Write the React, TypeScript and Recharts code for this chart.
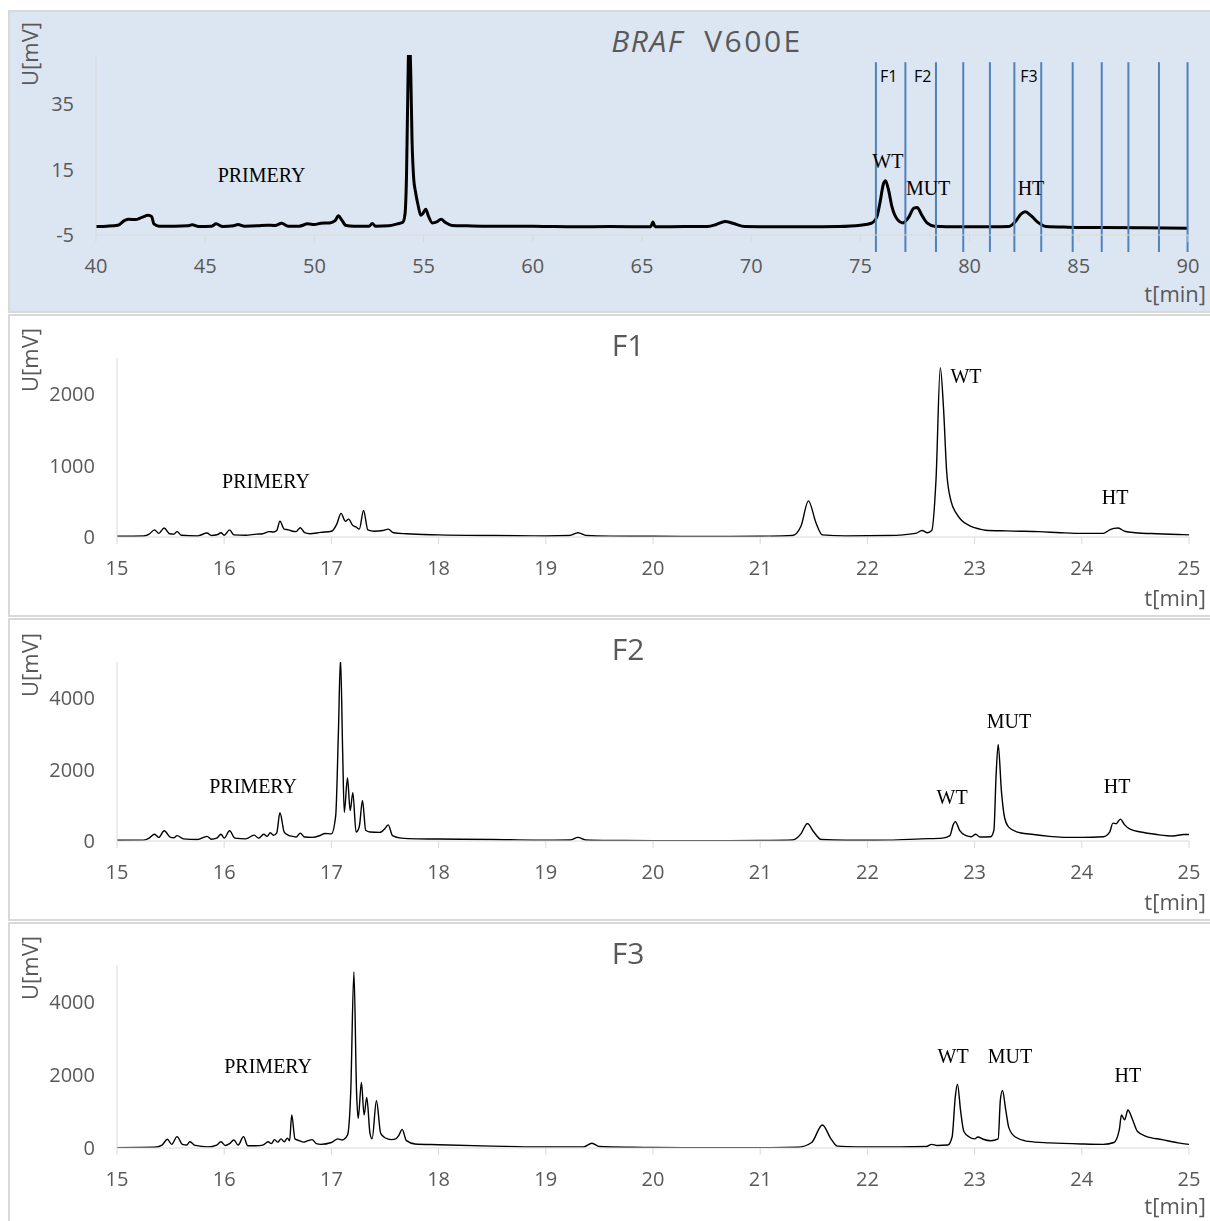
import React from "react";
import {
  LineChart,
  Line,
  XAxis,
  YAxis,
  ReferenceLine,
  ReferenceDot,
} from "recharts";

type Pt = [number, number];

// BRAF V600E overview trace, t [min] vs U [mV]
const brafTrace: Pt[] = [
  [40.0, -2.4], [40.5, -2.3], [41.0, -2.0], [41.3, -0.6], [41.5, -0.2], [41.8, -0.3],
  [42.1, 0.4], [42.4, 1.0], [42.55, 0.6], [42.65, -1.6], [42.9, -2.3], [43.6, -2.3],
  [44.2, -2.2], [44.4, -1.9], [44.7, -2.4], [45.3, -2.3], [45.5, -1.6], [45.8, -2.4],
  [46.3, -2.2], [46.5, -1.8], [46.8, -2.3], [47.4, -2.2], [47.8, -2.0], [48.2, -2.1],
  [48.5, -1.4], [48.8, -2.3], [49.3, -2.3], [49.7, -1.6], [50.0, -1.8], [50.3, -1.4],
  [50.7, -1.3], [50.95, -0.6], [51.1, 0.9], [51.25, -0.4], [51.45, -2.1], [51.8, -2.3],
  [52.5, -2.3], [52.65, -1.5], [52.8, -2.3], [53.4, -2.2], [53.8, -1.6], [54.05, -1.1],
  [54.15, 1.5], [54.22, 14], [54.28, 40], [54.34, 58], [54.41, 45], [54.47, 24],
  [54.55, 12], [54.62, 8.5], [54.75, 4], [54.87, 1], [54.97, 1.6], [55.1, 2.9],
  [55.22, 0.8], [55.4, -1.3], [55.6, -1.0], [55.8, -0.2], [56.0, -1.2], [56.3, -2.1],
  [57.0, -2.2], [58.0, -2.3], [59.2, -2.3], [60.5, -2.4], [62.0, -2.5], [63.5, -2.4],
  [65.4, -2.5], [65.5, -1.0], [65.6, -2.5], [67.0, -2.4], [68.0, -2.4], [68.4, -1.8],
  [68.8, -0.9], [69.2, -1.5], [69.7, -2.4], [71.0, -2.5], [72.5, -2.5], [74.0, -2.4],
  [75.0, -2.0], [75.5, -1.4], [75.75, 0.5], [75.9, 5], [76.05, 10.5], [76.15, 11.6],
  [76.28, 9], [76.45, 3.5], [76.7, -0.3], [76.95, -1.3], [77.2, 0.3], [77.45, 3.2],
  [77.6, 3.4], [77.8, 1.2], [78.05, -1.3], [78.4, -2.3], [79.5, -2.5], [81.0, -2.5],
  [81.8, -2.4], [82.1, -0.9], [82.35, 1.4], [82.55, 2.1], [82.8, 1.0], [83.1, -1.0],
  [83.5, -2.4], [84.5, -2.6], [86.0, -2.7], [88.0, -2.8], [90.0, -2.9],
];

// fraction boundaries collected in the overview run
const brafCuts = [75.71, 77.06, 78.46, 79.71, 80.93, 82.05, 83.28, 84.72, 86.05, 87.27, 88.67, 89.98];

const f1Trace: Pt[] = [
  [15.0, 10], [15.25, 15], [15.3, 40], [15.35, 100], [15.39, 50], [15.44, 125], [15.49, 45],
  [15.53, 40], [15.56, 75], [15.6, 25], [15.75, 15], [15.84, 55], [15.88, 20], [15.94, 35],
  [15.97, 60], [16.0, 25], [16.05, 100], [16.09, 30], [16.2, 25], [16.3, 40], [16.36, 45],
  [16.42, 75], [16.46, 70], [16.49, 90], [16.52, 220], [16.56, 110], [16.6, 100], [16.64, 80],
  [16.67, 75], [16.71, 130], [16.75, 60], [16.8, 45], [16.9, 65], [17.0, 80], [17.05, 180],
  [17.09, 330], [17.13, 220], [17.16, 250], [17.2, 160], [17.23, 140], [17.26, 110], [17.3, 370],
  [17.34, 100], [17.4, 80], [17.48, 90], [17.53, 110], [17.58, 60], [17.7, 45], [18.0, 30],
  [18.5, 20], [19.0, 15], [19.22, 20], [19.3, 60], [19.38, 20], [19.6, 12], [20.0, 10],
  [20.5, 8], [21.0, 10], [21.3, 20], [21.38, 150], [21.45, 505], [21.52, 200], [21.58, 30],
  [21.8, 15], [22.2, 20], [22.45, 50], [22.51, 90], [22.56, 60], [22.6, 90], [22.64, 800],
  [22.68, 2365], [22.71, 1800], [22.74, 900], [22.78, 500], [22.83, 330], [22.88, 230],
  [22.95, 160], [23.05, 110], [23.1, 95], [23.3, 85], [23.6, 75], [23.8, 60], [24.0, 50],
  [24.2, 50], [24.26, 100], [24.3, 120], [24.34, 125], [24.4, 80], [24.5, 60], [24.7, 45],
  [24.9, 35], [25.0, 30],
];

const f2Trace: Pt[] = [
  [15.0, 20], [15.25, 25], [15.3, 80], [15.35, 190], [15.39, 100], [15.44, 285], [15.5, 100],
  [15.53, 90], [15.56, 150], [15.62, 60], [15.75, 40], [15.84, 130], [15.88, 50], [15.93, 80],
  [15.97, 190], [16.0, 80], [16.05, 285], [16.1, 80], [16.2, 60], [16.28, 165], [16.32, 80],
  [16.37, 190], [16.4, 130], [16.43, 230], [16.46, 160], [16.49, 230], [16.52, 790], [16.56, 250],
  [16.6, 160], [16.64, 130], [16.67, 110], [16.71, 220], [16.75, 110], [16.82, 100], [16.9, 160],
  [16.94, 210], [17.0, 200], [17.04, 700], [17.065, 3000], [17.085, 5100], [17.105, 2500],
  [17.12, 800], [17.15, 1760], [17.175, 850], [17.2, 1350], [17.23, 250], [17.26, 400],
  [17.29, 1130], [17.32, 300], [17.36, 250], [17.45, 240], [17.5, 350], [17.53, 450],
  [17.57, 150], [17.65, 80], [17.8, 60], [18.0, 55], [18.5, 40], [19.0, 25], [19.23, 30],
  [19.3, 100], [19.37, 30], [19.6, 15], [20.0, 10], [20.5, 10], [21.0, 15], [21.3, 30],
  [21.38, 200], [21.44, 490], [21.5, 250], [21.57, 40], [21.8, 20], [22.2, 25], [22.5, 60],
  [22.7, 80], [22.77, 150], [22.8, 450], [22.82, 540], [22.86, 300], [22.92, 150], [22.97, 120],
  [23.01, 190], [23.05, 110], [23.15, 120], [23.18, 300], [23.2, 1800], [23.22, 2695],
  [23.25, 1400], [23.28, 650], [23.32, 380], [23.4, 250], [23.55, 180], [23.7, 130],
  [23.85, 100], [24.0, 100], [24.2, 120], [24.26, 250], [24.29, 500], [24.32, 480], [24.36, 610],
  [24.4, 450], [24.45, 330], [24.55, 250], [24.7, 180], [24.85, 140], [24.95, 180], [25.0, 180],
];

const f3Trace: Pt[] = [
  [15.0, 10], [15.35, 20], [15.42, 80], [15.47, 240], [15.51, 100], [15.56, 310], [15.61, 100],
  [15.65, 80], [15.68, 170], [15.73, 70], [15.85, 30], [15.93, 80], [15.97, 170], [16.01, 70],
  [16.05, 120], [16.09, 220], [16.13, 80], [16.18, 310], [16.22, 60], [16.3, 60], [16.36, 80],
  [16.41, 170], [16.44, 120], [16.47, 230], [16.5, 160], [16.53, 250], [16.56, 170], [16.59, 270],
  [16.61, 200], [16.63, 900], [16.66, 250], [16.7, 200], [16.74, 160], [16.78, 200], [16.82, 230],
  [16.86, 120], [16.9, 100], [17.0, 150], [17.06, 250], [17.1, 220], [17.15, 350], [17.18, 1500],
  [17.21, 4810], [17.235, 1500], [17.25, 810], [17.28, 1790], [17.305, 900], [17.33, 1380],
  [17.36, 400], [17.38, 250], [17.42, 1290], [17.46, 400], [17.5, 280], [17.56, 230], [17.6, 250],
  [17.63, 350], [17.66, 510], [17.7, 200], [17.78, 110], [18.0, 90], [18.5, 50], [19.0, 30],
  [19.35, 30], [19.43, 130], [19.5, 40], [19.8, 20], [20.0, 15], [20.5, 10], [21.0, 10],
  [21.35, 20], [21.48, 150], [21.58, 630], [21.66, 250], [21.72, 50], [21.9, 30], [22.3, 30],
  [22.55, 40], [22.6, 100], [22.65, 70], [22.75, 80], [22.79, 300], [22.82, 1400], [22.84, 1745],
  [22.87, 1000], [22.9, 450], [22.95, 300], [23.0, 250], [23.03, 300], [23.08, 240], [23.15, 200],
  [23.22, 250], [23.24, 1300], [23.26, 1570], [23.29, 1050], [23.32, 550], [23.38, 300],
  [23.5, 180], [23.7, 140], [24.0, 110], [24.2, 100], [24.3, 150], [24.35, 500], [24.37, 900],
  [24.4, 770], [24.43, 1040], [24.47, 800], [24.52, 450], [24.6, 320], [24.75, 230],
  [24.9, 140], [25.0, 100],
];

const brafTicks = [40, 45, 50, 55, 60, 65, 70, 75, 80, 85, 90];
const minuteTicks = [15, 16, 17, 18, 19, 20, 21, 22, 23, 24, 25];
const brafYTicks = [-5, 15, 35];
const f1YTicks = [0, 1000, 2000];
const fracYTicks = [0, 2000, 4000];

type Note = { text: string; t: number; v: number };

const brafNotes: Note[] = [
  { text: "PRIMERY", t: 47.58, v: 13.3 },
  { text: "WT", t: 76.26, v: 17.6 },
  { text: "MUT", t: 78.1, v: 9.5 },
  { text: "HT", t: 82.81, v: 9.35 },
];
const brafFractions: Note[] = [
  { text: "F1", t: 76.3, v: 43.5 },
  { text: "F2", t: 77.85, v: 43.5 },
  { text: "F3", t: 82.72, v: 43.5 },
];
const f1Notes: Note[] = [
  { text: "PRIMERY", t: 16.39, v: 785 },
  { text: "WT", t: 22.92, v: 2250 },
  { text: "HT", t: 24.31, v: 562 },
];
const f2Notes: Note[] = [
  { text: "PRIMERY", t: 16.27, v: 1550 },
  { text: "WT", t: 22.79, v: 1241 },
  { text: "MUT", t: 23.32, v: 3366 },
  { text: "HT", t: 24.33, v: 1545 },
];
const f3Notes: Note[] = [
  { text: "PRIMERY", t: 16.41, v: 2252 },
  { text: "WT", t: 22.8, v: 2526 },
  { text: "MUT", t: 23.33, v: 2526 },
  { text: "HT", t: 24.43, v: 1986 },
];

const W = 1200;
const H = 299;
const GREY = "#595959";
const SANS = "'Open Sans', sans-serif";
const SERIF = "'Liberation Serif', 'Times New Roman', serif";

interface PanelProps {
  trace: Pt[];
  xDomain: [number, number];
  xTicks: number[];
  yDomain: [number, number];
  yTicks: number[];
  left: number;
  right: number;
  top: number;
  bottom: number;
  title: React.ReactNode;
  titleX: number;
  notes: Note[];
  strokeWidth: number;
  yTitleY: number;
  background?: string;
  cuts?: number[];
  cutSpan?: [number, number];
  fractions?: Note[];
}

function Panel(p: PanelProps) {
  const rows = p.trace.map(([t, v]) => ({ t, v }));
  return (
    <div
      style={{
        position: "relative",
        width: W,
        height: H,
        border: "2px solid #d9d9d9",
        background: p.background ?? "#ffffff",
        marginBottom: 1,
      }}
    >
      <LineChart
        width={W}
        height={H}
        data={rows}
        margin={{ top: p.top, right: W - p.right, left: p.left - 60, bottom: H - p.bottom - 40 }}
      >
        <XAxis
          type="number"
          dataKey="t"
          domain={p.xDomain}
          ticks={p.xTicks}
          interval={0}
          allowDataOverflow
          height={40}
          tickSize={7}
          tickMargin={17}
          axisLine={{ stroke: "#d9d9d9" }}
          tickLine={{ stroke: "#d9d9d9" }}
          tick={{ fill: GREY, fontSize: 20, fontFamily: SANS }}
        />
        <YAxis
          type="number"
          domain={p.yDomain}
          ticks={p.yTicks}
          interval={0}
          allowDataOverflow
          width={60}
          tickSize={0}
          tickMargin={22}
          tickLine={false}
          axisLine={{ stroke: "#d9d9d9" }}
          tick={{ fill: GREY, fontSize: 20, fontFamily: SANS }}
        />
        <Line
          type="monotone"
          dataKey="v"
          stroke="#000000"
          strokeWidth={p.strokeWidth}
          dot={false}
          isAnimationActive={false}
        />
        {p.cuts?.map((c) => (
          <ReferenceLine
            key={c}
            segment={[
              { x: c, y: p.cutSpan![0] },
              { x: c, y: p.cutSpan![1] },
            ]}
            stroke="#4f81bd"
            strokeWidth={2}
            ifOverflow="visible"
          />
        ))}
        {p.fractions?.map((n) => (
          <ReferenceDot
            key={n.text}
            x={n.t}
            y={n.v}
            r={0}
            fill="none"
            stroke="none"
            ifOverflow="visible"
            label={{ value: n.text, position: "center", fill: "#000", fontSize: 16, fontFamily: SANS }}
          />
        ))}
        {p.notes.map((n) => (
          <ReferenceDot
            key={n.text}
            x={n.t}
            y={n.v}
            r={0}
            fill="none"
            stroke="none"
            ifOverflow="visible"
            label={{ value: n.text, position: "center", fill: "#000", fontSize: 20, fontFamily: SERIF }}
          />
        ))}
      </LineChart>
      <svg
        width={W}
        height={H}
        style={{ position: "absolute", left: 0, top: 0, pointerEvents: "none" }}
      >
        <text x={p.titleX} y={40} textAnchor="middle" fontSize={30} fill={GREY} fontFamily={SANS}>
          {p.title}
        </text>
        <text
          x={22}
          y={p.yTitleY + 6}
          textAnchor="middle"
          fontSize={22}
          fill={GREY}
          fontFamily={SANS}
          transform={`rotate(-90 22 ${p.yTitleY})`}
        >
          U[mV]
        </text>
        <text x={1196} y={290} textAnchor="end" fontSize={22} fill={GREY} fontFamily={SANS}>
          t[min]
        </text>
      </svg>
    </div>
  );
}

export default function App() {
  return (
    <div
      style={{
        position: "fixed",
        left: 8,
        top: 8,
        width: 1202,
        height: 1213,
        overflow: "hidden",
        paddingTop: 2,
        boxSizing: "border-box",
      }}
    >
      <Panel
        trace={brafTrace}
        xDomain={[40, 90]}
        xTicks={brafTicks}
        yDomain={[-5, 50]}
        yTicks={brafYTicks}
        left={86}
        right={1178}
        top={43}
        bottom={223}
        title={
          <>
            <tspan fontStyle="italic" letterSpacing={1.5}>BRAF</tspan>
            <tspan letterSpacing={2.5}>{"\u00a0\u00a0V600E"}</tspan>
          </>
        }
        titleX={697}
        notes={brafNotes}
        strokeWidth={3}
        yTitleY={42}
        background="#dce6f2"
        cuts={brafCuts}
        cutSpan={[-10.2, 47.8]}
        fractions={brafFractions}
      />
      <Panel
        trace={f1Trace}
        xDomain={[15, 25]}
        xTicks={minuteTicks}
        yDomain={[0, 2500]}
        yTicks={f1YTicks}
        left={107}
        right={1179}
        top={42}
        bottom={221}
        title="F1"
        titleX={618}
        notes={f1Notes}
        strokeWidth={1.4}
        yTitleY={44}
      />
      <Panel
        trace={f2Trace}
        xDomain={[15, 25]}
        xTicks={minuteTicks}
        yDomain={[0, 5000]}
        yTicks={fracYTicks}
        left={107}
        right={1179}
        top={42}
        bottom={221}
        title="F2"
        titleX={618}
        notes={f2Notes}
        strokeWidth={1.4}
        yTitleY={45}
      />
      <Panel
        trace={f3Trace}
        xDomain={[15, 25]}
        xTicks={minuteTicks}
        yDomain={[0, 5000]}
        yTicks={fracYTicks}
        left={107}
        right={1179}
        top={41}
        bottom={224}
        title="F3"
        titleX={618}
        notes={f3Notes}
        strokeWidth={1.4}
        yTitleY={44}
      />
    </div>
  );
}
